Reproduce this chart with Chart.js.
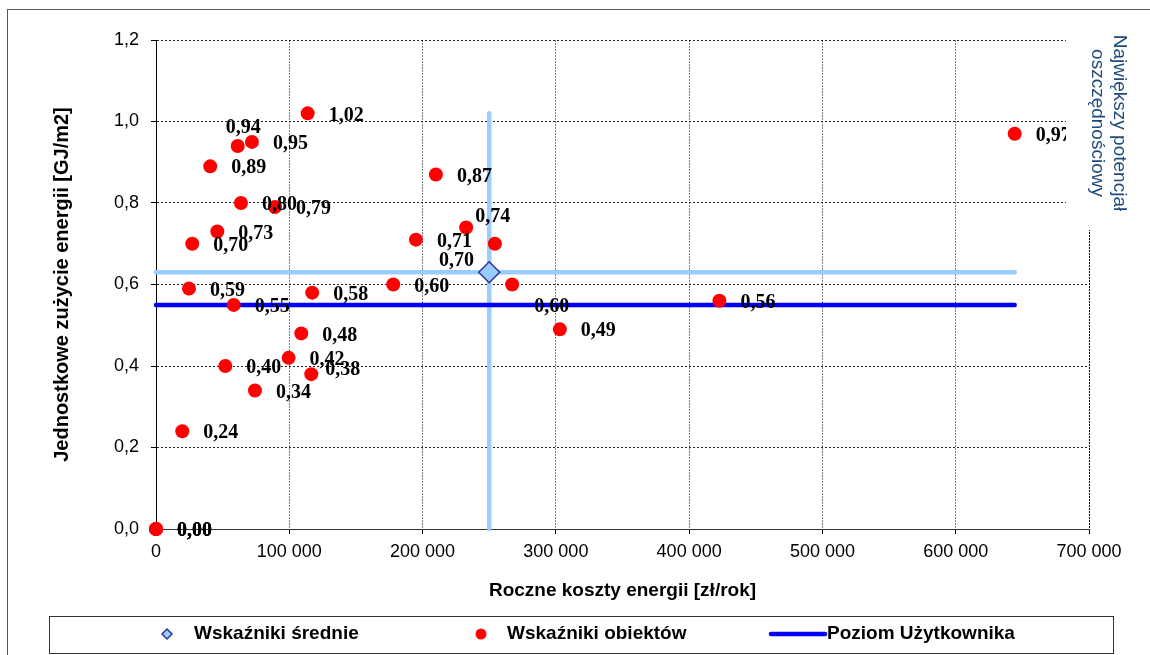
<!DOCTYPE html>
<html><head><meta charset="utf-8">
<script src="https://cdn.jsdelivr.net/npm/chart.js@4.4.0/dist/chart.umd.min.js"></script>
<style>html,body{margin:0;padding:0;background:#fff;overflow:hidden}#wrap{width:1150px;height:655px;position:relative}</style>
</head><body><div id="wrap"><canvas id="c" width="1150" height="655"></canvas></div>
<script>
// ---- data ----
const objectCosts  = [0, 0, 0, 19700, 24750, 27200, 40700, 46000, 52000, 58300, 61300, 63750, 72000, 74250, 89250, 99500, 109000, 113800, 116500, 117200, 178000, 195000, 210000, 232700, 254250, 267200, 303000, 422700, 644250];
const objectEnergy = [0, 0, 0, 0.24, 0.59, 0.70, 0.89, 0.73, 0.40, 0.55, 0.94, 0.80, 0.95, 0.34, 0.79, 0.42, 0.48, 1.02, 0.38, 0.58, 0.60, 0.71, 0.87, 0.74, 0.70, 0.60, 0.49, 0.56, 0.97];
const averageCost = 250000;
const averageEnergy = 0.63;
const userLevel = 0.55;
const xTicks = [0, 100000, 200000, 300000, 400000, 500000, 600000, 700000];
const yTicks = [0, 0.2, 0.4, 0.6, 0.8, 1.0, 1.2];
const seriesNames = ['Wskaźniki średnie', 'Wskaźniki obiektów', 'Poziom Użytkownika'];
const xTitle = 'Roczne koszty energii [zł/rok]';
const yTitle = 'Jednostkowe zużycie energii [GJ/m2]';
const noteLines = ['Największy potencjał', 'oszczędnościowy'];

// ---- styling (label nudges per point index: [dx, dy] from the marker) ----
const defaultNudge = [21, 2];
const labelNudge = {10: [-12, -18], 18: [14, -4], 23: [9, -11], 24: [-56, 17], 25: [22, 22]};
const C_AVG_FILL = '#99CCFF', C_AVG_EDGE = '#333399', C_RED = '#FF0000', C_USER = '#0000FF', C_NOTE = '#1F497D';
const SANS = '"Liberation Sans", Arial, sans-serif';
const SERIF = '"Liberation Serif", "Times New Roman", serif';

const maxCost = Math.max(...objectCosts);
const maxEnergy = Math.max(...objectEnergy);
const fmtComma = (v, d) => v.toFixed(d).replace('.', ',');
const fmtThousands = v => String(Math.round(v)).replace(/\B(?=(\d{3})+(?!\d))/g, ' ');

const decor = {
  id: 'decor',
  afterDatasetsDraw(chart) {
    const ctx = chart.ctx;
    const meta = chart.getDatasetMeta(1);
    ctx.save();
    ctx.font = 'bold 20px ' + SERIF;
    ctx.fillStyle = '#000';
    ctx.textAlign = 'left';
    ctx.textBaseline = 'middle';
    meta.data.forEach((pt, i) => {
      const n = labelNudge[i] || defaultNudge;
      ctx.fillText(fmtComma(objectEnergy[i], 2), pt.x + n[0], pt.y + n[1]);
    });
    ctx.restore();
  },
  afterDraw(chart) {
    const ctx = chart.ctx;
    const area = chart.chartArea;
    ctx.save();
    // white panel for the side note
    ctx.fillStyle = '#fff';
    ctx.fillRect(area.right - 23, 11, 1150 - (area.right - 23), 219);
    // side note, rotated
    ctx.fillStyle = C_NOTE;
    ctx.font = '19px ' + SANS;
    ctx.textAlign = 'center';
    ctx.textBaseline = 'middle';
    noteLines.forEach((t, k) => {
      ctx.save();
      ctx.translate(1119 - k * 22, 123);
      ctx.rotate(Math.PI / 2);
      ctx.fillText(t, 0, 0);
      ctx.restore();
    });
    // outer border
    ctx.strokeStyle = '#555';
    ctx.lineWidth = 1;
    ctx.strokeRect(7.5, 9.5, 1160, 660);
    // legend box
    ctx.fillStyle = '#fff';
    ctx.fillRect(49, 616, 1064, 37);
    ctx.strokeStyle = '#333';
    ctx.strokeRect(49.5, 616.5, 1064, 37);
    const ly = 634;
    // diamond marker
    ctx.beginPath();
    ctx.moveTo(167, ly - 5); ctx.lineTo(172, ly); ctx.lineTo(167, ly + 5); ctx.lineTo(162, ly); ctx.closePath();
    ctx.fillStyle = C_AVG_FILL; ctx.fill();
    ctx.strokeStyle = C_AVG_EDGE; ctx.lineWidth = 1.5; ctx.stroke();
    // red dot
    ctx.beginPath(); ctx.arc(481, ly, 5.5, 0, Math.PI * 2); ctx.fillStyle = C_RED; ctx.fill();
    // line
    ctx.beginPath(); ctx.moveTo(771, ly); ctx.lineTo(825, ly); ctx.strokeStyle = C_USER; ctx.lineWidth = 4.5; ctx.lineCap = 'round'; ctx.stroke();
    ctx.fillStyle = '#000';
    ctx.font = 'bold 19px ' + SANS;
    ctx.textAlign = 'left';
    ctx.textBaseline = 'middle';
    ctx.fillText(seriesNames[0], 194, ly);
    ctx.fillText(seriesNames[1], 507, ly);
    ctx.fillText(seriesNames[2], 827, ly);
    ctx.restore();
  }
};

const chart = new Chart(document.getElementById('c'), {
  type: 'scatter',
  data: {
    datasets: [
      {
        label: seriesNames[0],
        data: [{x: averageCost, y: averageEnergy}],
        pointStyle: 'rectRot', pointRadius: 10.5,
        backgroundColor: C_AVG_FILL, borderColor: C_AVG_EDGE, borderWidth: 1.5,
        order: 1, clip: false
      },
      {
        label: seriesNames[1],
        data: objectCosts.map((x, i) => ({x, y: objectEnergy[i]})),
        pointStyle: 'circle', pointRadius: 7, borderWidth: 0,
        backgroundColor: C_RED, borderColor: C_RED,
        order: 2, clip: false
      },
      {
        label: seriesNames[2],
        data: [{x: 0, y: userLevel}, {x: maxCost, y: userLevel}],
        showLine: true, pointRadius: 0, borderColor: C_USER, borderWidth: 4.5,
        borderCapStyle: 'round', order: 3, clip: false
      },
      {
        label: 'avgH',
        data: [{x: 0, y: averageEnergy}, {x: maxCost, y: averageEnergy}],
        showLine: true, pointRadius: 0, borderColor: C_AVG_FILL, borderWidth: 4.5,
        borderCapStyle: 'round', order: 4, clip: false
      },
      {
        label: 'avgV',
        data: [{x: averageCost, y: 0}, {x: averageCost, y: maxEnergy}],
        showLine: true, pointRadius: 0, borderColor: C_AVG_FILL, borderWidth: 4.5,
        borderCapStyle: 'round', order: 5, clip: false
      }
    ]
  },
  options: {
    responsive: false,
    devicePixelRatio: 1,
    animation: false,
    events: [],
    layout: {padding: {left: 0, right: 61, top: 40, bottom: 50}},
    plugins: {legend: {display: false}, tooltip: {enabled: false}},
    scales: {
      x: {
        type: 'linear', min: xTicks[0], max: xTicks[xTicks.length - 1],
        afterBuildTicks: s => { s.ticks = xTicks.map(v => ({value: v})); },
        afterFit: s => { s.height = 76; },
        ticks: {
          callback: v => fmtThousands(v),
          font: {family: SANS, size: 18}, color: '#000', padding: 7, maxRotation: 0, autoSkip: false
        },
        grid: {
          color: ctx => (ctx.tick && ctx.tick.value === 700000) ? '#000' : '#808080',
          lineWidth: 1, tickLength: 5, tickColor: '#000', drawTicks: true
        },
        border: {display: true, color: '#333', width: 1, dash: [2, 1]},
        title: {display: true, text: xTitle, font: {family: SANS, size: 19, weight: 'bold'}, color: '#000', padding: {top: 0, bottom: 3}}
      },
      y: {
        type: 'linear', min: yTicks[0], max: yTicks[yTicks.length - 1],
        afterBuildTicks: s => { s.ticks = yTicks.map(v => ({value: v})); },
        afterFit: s => { s.width = 156; },
        ticks: {
          callback: v => fmtComma(v, 1),
          font: {family: SANS, size: 18}, color: '#000', padding: 12
        },
        grid: {color: '#222', lineWidth: 1, tickLength: 5, tickColor: '#000', drawTicks: true},
        border: {display: true, color: '#000', width: 1, dash: [2, 2]},
        title: {display: true, text: yTitle, font: {family: SANS, size: 20, weight: 'bold'}, color: '#000', padding: {top: 50, bottom: 0}}
      }
    }
  },
  plugins: [decor]
});
</script>
</body></html>
